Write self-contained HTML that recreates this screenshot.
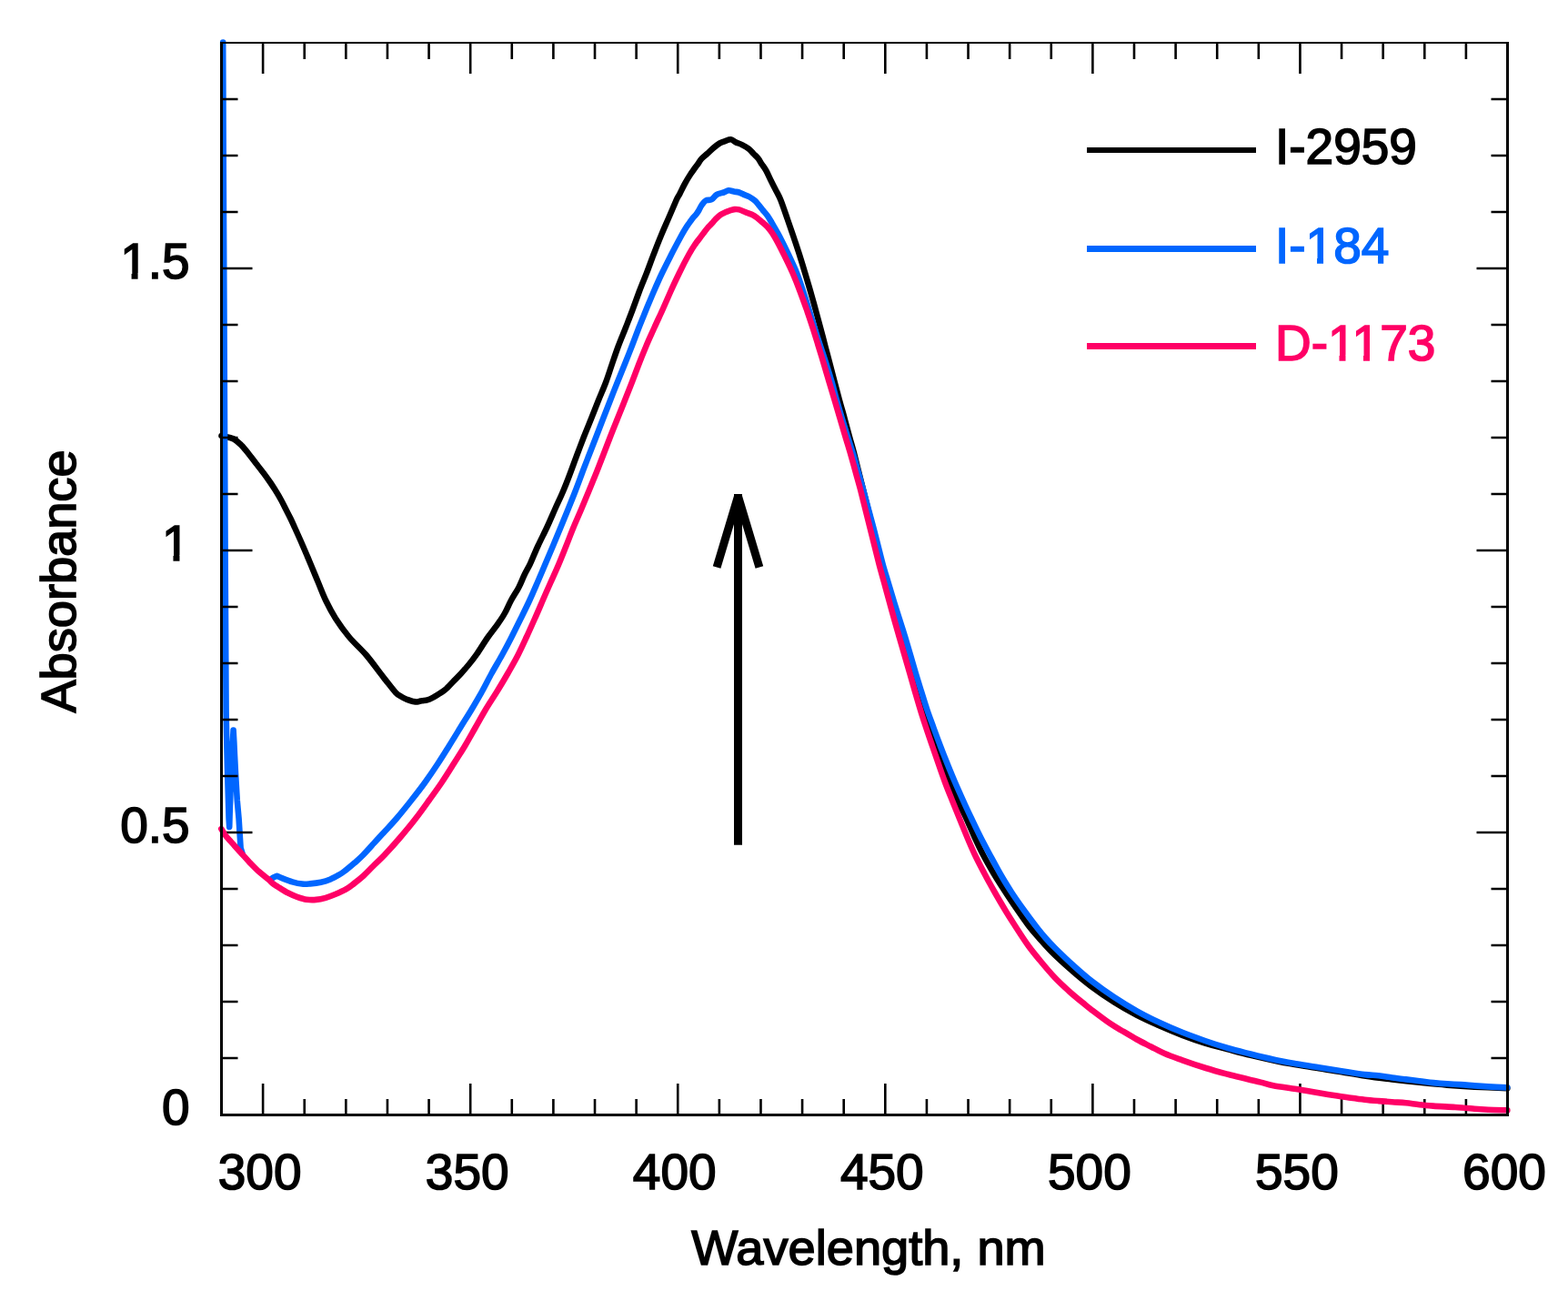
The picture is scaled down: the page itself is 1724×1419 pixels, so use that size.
<!DOCTYPE html>
<html><head><meta charset="utf-8"><title>Absorbance spectra</title>
<style>
html,body{margin:0;padding:0;background:#fff;}
body{width:1724px;height:1419px;overflow:hidden;}
svg{display:block;}
text{font-family:"Liberation Sans", Arial, Helvetica, sans-serif;font-size:55px;fill:#000;stroke:#000;stroke-width:1.6px;}
</style></head>
<body>
<svg width="1724" height="1419" viewBox="0 0 1724 1419">
<rect width="1724" height="1419" fill="#fff"/>
<g fill="none" stroke-width="6.6" stroke-linecap="round" stroke-linejoin="round">
<path d="M243.5 479.0 C244.1 479.1 244.6 479.1 246.8 479.7 C249.0 480.3 253.9 480.9 256.9 482.5 C259.9 484.1 262.9 487.1 265.0 489.0 C267.1 490.9 267.8 492.0 269.3 493.8 C270.9 495.6 272.2 497.3 274.3 500.0 C276.4 502.7 279.4 506.7 282.0 510.0 C284.6 513.3 287.3 516.7 289.8 520.0 C292.3 523.3 294.7 526.7 297.0 530.0 C299.3 533.3 301.4 536.7 303.5 540.0 C305.6 543.3 307.5 546.7 309.3 550.0 C311.1 553.3 312.7 556.7 314.4 560.0 C316.1 563.3 317.9 566.7 319.5 570.0 C321.1 573.3 322.6 576.7 324.1 580.0 C325.6 583.3 327.1 586.7 328.6 590.0 C330.1 593.3 331.6 596.7 333.0 600.0 C334.4 603.3 335.9 606.7 337.3 610.0 C338.7 613.3 339.4 615.0 341.5 620.0 C343.6 625.0 347.0 633.3 349.8 640.0 C352.6 646.7 355.0 653.3 358.2 660.0 C361.4 666.7 364.9 673.3 369.1 680.0 C373.4 686.7 378.1 693.3 383.7 700.0 C389.3 706.7 396.9 713.3 402.7 720.0 C408.4 726.7 414.6 735.4 418.2 740.0 C421.8 744.6 421.5 744.4 424.3 747.9 C427.1 751.4 432.2 758.2 435.0 761.2 C437.8 764.2 439.2 764.5 441.3 765.8 C443.4 767.1 445.6 768.0 447.7 768.9 C449.8 769.8 452.1 770.5 454.0 770.9 C455.9 771.3 457.2 771.6 458.8 771.5 C460.4 771.4 461.6 770.6 463.5 770.3 C465.4 769.9 467.8 770.0 469.9 769.4 C472.0 768.8 474.1 767.7 476.2 766.6 C478.3 765.5 480.4 764.1 482.6 762.7 C484.8 761.3 486.9 760.3 489.5 758.1 C492.1 755.9 495.1 752.5 498.0 749.5 C500.9 746.5 504.4 743.1 507.2 740.0 C510.0 736.9 512.1 734.5 515.0 731.0 C517.9 727.5 520.7 724.1 524.3 718.9 C527.9 713.7 532.8 705.5 536.7 700.0 C540.6 694.5 544.5 689.9 547.5 685.6 C550.5 681.3 552.6 678.3 555.0 674.0 C557.4 669.7 559.3 664.8 561.9 660.0 C564.5 655.2 568.3 649.7 570.7 645.0 C573.1 640.3 574.5 636.2 576.5 632.0 C578.5 627.8 580.2 625.3 582.8 620.0 C585.2 614.7 588.4 606.7 591.5 600.0 C594.6 593.3 598.0 586.8 601.2 580.0 C604.4 573.2 607.5 565.7 610.5 559.0 C613.5 552.3 616.4 546.5 619.1 540.0 C621.9 533.5 624.5 526.7 627.0 520.0 C629.5 513.3 631.9 506.7 634.4 500.0 C636.9 493.3 639.4 486.7 642.0 480.0 C644.6 473.3 647.4 466.7 650.1 460.0 C652.8 453.3 655.3 446.7 658.0 440.0 C660.7 433.3 663.7 426.7 666.2 420.0 C668.7 413.3 670.7 406.7 673.0 400.0 C675.3 393.3 677.5 386.7 680.0 380.0 C682.5 373.3 685.4 366.7 688.0 360.0 C690.6 353.3 693.2 346.7 695.7 340.0 C698.2 333.3 700.5 326.7 703.0 320.0 C705.5 313.3 708.4 306.7 711.0 300.0 C713.6 293.3 715.9 286.7 718.5 280.0 C721.1 273.3 723.6 266.7 726.4 260.0 C729.1 253.3 732.1 246.7 735.0 240.0 C737.9 233.3 741.6 224.5 743.6 220.0 C745.6 215.5 745.8 216.1 747.3 213.2 C748.8 210.3 750.7 206.1 752.6 202.6 C754.5 199.1 757.0 194.9 758.9 192.0 C760.8 189.1 762.4 187.0 763.8 185.0 C765.2 183.0 766.3 181.7 767.5 180.0 C768.7 178.3 769.4 176.6 771.1 174.8 C772.8 173.0 775.3 171.0 777.5 169.0 C779.7 167.0 782.1 164.5 784.4 162.6 C786.7 160.7 789.3 158.7 791.4 157.4 C793.5 156.2 795.2 155.8 797.2 155.1 C799.2 154.4 801.7 153.1 803.6 153.3 C805.5 153.5 806.8 155.2 808.8 156.2 C810.8 157.2 813.5 157.9 815.8 159.1 C818.1 160.3 820.6 161.5 822.7 163.2 C824.8 164.8 826.7 167.2 828.5 169.0 C830.3 170.8 832.2 172.3 833.7 174.2 C835.2 176.1 836.0 178.1 837.5 180.3 C839.0 182.5 840.6 184.3 842.4 187.6 C844.2 190.9 846.5 196.3 848.4 200.0 C850.2 203.7 851.8 206.7 853.5 210.0 C855.2 213.3 856.4 215.0 858.4 220.0 C860.4 225.0 863.2 233.3 865.5 240.0 C867.8 246.7 870.1 253.3 872.4 260.0 C874.6 266.7 876.9 273.3 879.0 280.0 C881.1 286.7 883.1 293.3 885.1 300.0 C887.1 306.7 889.1 313.3 891.0 320.0 C892.9 326.7 894.8 333.3 896.6 340.0 C898.4 346.7 900.2 353.3 902.0 360.0 C903.8 366.7 905.5 373.3 907.2 380.0 C909.0 386.7 910.8 393.3 912.5 400.0 C914.2 406.7 916.0 413.3 917.7 420.0 C919.5 426.7 921.2 433.3 923.0 440.0 C924.8 446.7 926.8 453.3 928.6 460.0 C930.4 466.7 932.2 473.3 934.0 480.0 C935.8 486.7 937.8 493.3 939.5 500.0 C941.2 506.7 942.8 513.3 944.5 520.0 C946.2 526.7 947.8 533.3 949.5 540.0 C951.2 546.7 952.8 553.3 954.5 560.0 C956.2 566.7 957.8 573.3 959.5 580.0 C961.2 586.7 962.9 593.3 964.5 600.0 C966.1 606.7 967.2 613.3 969.0 620.0 C970.8 626.7 973.1 633.3 975.0 640.0 C976.9 646.7 978.7 653.3 980.5 660.0 C982.3 666.7 984.1 673.3 986.0 680.0 C987.9 686.7 990.1 693.3 992.0 700.0 C993.9 706.7 995.6 713.3 997.5 720.0 C999.4 726.7 1001.3 733.3 1003.5 740.0 C1005.7 746.7 1008.1 753.3 1010.5 760.0 C1012.9 766.7 1015.8 773.3 1018.0 780.0 C1020.2 786.7 1021.6 793.3 1023.5 800.0 C1025.4 806.7 1027.3 813.3 1029.5 820.0 C1031.7 826.7 1034.0 833.3 1036.5 840.0 C1039.0 846.7 1041.8 853.3 1044.6 860.0 C1047.3 866.7 1050.0 873.3 1053.0 880.0 C1056.0 886.7 1059.6 893.3 1062.7 900.0 C1065.8 906.7 1068.4 913.3 1071.5 920.0 C1074.6 926.7 1077.7 933.3 1081.2 940.0 C1084.7 946.7 1088.5 953.3 1092.5 960.0 C1096.5 966.7 1100.8 973.3 1105.1 980.0 C1109.4 986.7 1113.9 993.3 1118.5 1000.0 C1123.1 1006.7 1128.3 1014.2 1132.9 1020.0 C1137.5 1025.8 1141.5 1030.0 1146.0 1035.0 C1150.5 1040.0 1154.3 1044.3 1160.0 1049.8 C1165.7 1055.3 1173.3 1062.2 1180.0 1068.0 C1186.7 1073.8 1192.5 1078.7 1200.0 1084.3 C1207.5 1089.9 1216.7 1096.2 1225.0 1101.5 C1233.3 1106.8 1241.7 1111.5 1250.0 1115.8 C1258.3 1120.1 1266.7 1123.8 1275.0 1127.5 C1283.3 1131.2 1291.7 1134.6 1300.0 1137.8 C1308.3 1141.0 1316.7 1143.9 1325.0 1146.5 C1333.3 1149.1 1341.7 1151.1 1350.0 1153.3 C1358.3 1155.5 1366.7 1157.8 1375.0 1159.8 C1383.3 1161.8 1391.7 1163.7 1400.0 1165.4 C1408.3 1167.2 1416.7 1168.8 1425.0 1170.3 C1433.3 1171.8 1441.7 1173.0 1450.0 1174.3 C1458.3 1175.6 1466.7 1176.8 1475.0 1178.2 C1483.3 1179.6 1490.7 1181.1 1500.0 1182.5 C1509.3 1183.9 1520.5 1185.3 1530.6 1186.5 C1540.7 1187.7 1550.7 1188.8 1560.8 1189.8 C1570.9 1190.8 1581.0 1191.8 1591.0 1192.6 C1601.0 1193.4 1610.0 1194.0 1621.1 1194.6 C1632.1 1195.2 1651.3 1195.9 1657.3 1196.2" stroke="#000"/>
<path d="M245.2 46.5 L245.8 200.0 L246.7 394.0 L247.7 628.0 L248.6 783.0 L249.1 807.0 L250.0 845.0 L251.6 900.0 L252.2 909.0 L252.6 895.0 L254.5 845.0 L256.1 812.0 L256.6 802.5 L257.3 815.0 L258.0 830.0 L259.0 850.0 L260.8 880.0 L262.6 900.0 L264.6 932.0 L266.5 938.0 M297.5 966.6 L300.5 964.5 L304.5 962.8 L304.5 962.8 C305.6 963.3 308.3 964.5 311.1 965.6 C313.9 966.7 318.0 968.3 321.5 969.3 C325.0 970.3 328.8 971.2 332.0 971.6 C335.2 972.0 337.5 971.7 341.0 971.4 C344.5 971.1 349.1 970.6 352.8 969.8 C356.5 969.0 359.8 968.0 363.3 966.5 C366.8 965.0 370.9 962.6 373.7 961.0 C376.5 959.4 377.3 958.7 380.0 956.6 C382.7 954.5 386.8 951.1 390.0 948.3 C393.2 945.5 395.6 943.5 399.0 940.0 C402.4 936.5 406.7 931.7 410.6 927.4 C414.6 923.1 418.5 918.8 422.7 914.2 C426.9 909.6 430.8 905.7 435.7 900.0 C440.6 894.3 446.7 886.7 452.0 880.0 C457.3 873.3 462.5 866.7 467.3 860.0 C472.1 853.3 476.6 846.7 481.0 840.0 C485.4 833.3 489.5 826.7 493.7 820.0 C497.9 813.3 501.9 806.7 506.0 800.0 C510.1 793.3 514.4 786.7 518.4 780.0 C522.4 773.3 526.3 766.7 530.0 760.0 C533.7 753.3 536.9 746.7 540.6 740.0 C544.3 733.3 548.3 726.7 552.0 720.0 C555.7 713.3 559.2 706.7 562.6 700.0 C566.0 693.3 569.2 686.7 572.5 680.0 C575.8 673.3 579.1 666.7 582.2 660.0 C585.3 653.3 588.1 646.7 591.0 640.0 C593.9 633.3 596.7 626.7 599.5 620.0 C602.3 613.3 605.2 606.7 608.0 600.0 C610.8 593.3 613.5 586.7 616.3 580.0 C619.0 573.3 621.8 566.7 624.5 560.0 C627.2 553.3 629.9 546.7 632.5 540.0 C635.1 533.3 637.5 526.7 640.0 520.0 C642.5 513.3 645.1 506.7 647.7 500.0 C650.3 493.3 652.9 486.7 655.5 480.0 C658.1 473.3 660.6 466.7 663.2 460.0 C665.8 453.3 668.4 446.7 671.0 440.0 C673.6 433.3 676.2 426.7 678.9 420.0 C681.6 413.3 684.3 406.7 687.0 400.0 C689.7 393.3 692.3 386.7 694.9 380.0 C697.5 373.3 699.9 366.7 702.5 360.0 C705.1 353.3 707.9 346.7 710.6 340.0 C713.4 333.3 716.1 326.7 719.0 320.0 C721.9 313.3 724.8 306.7 728.0 300.0 C731.2 293.3 734.6 286.7 738.0 280.0 C741.4 273.3 746.0 264.8 748.6 260.0 C751.2 255.2 752.0 253.9 753.5 251.5 C755.0 249.1 756.2 247.4 757.5 245.5 C758.8 243.6 760.2 241.7 761.5 240.0 C762.8 238.3 764.3 237.0 765.5 235.5 C766.7 234.0 767.5 232.7 768.5 231.0 C769.5 229.3 770.2 227.2 771.5 225.5 C772.8 223.8 774.2 221.6 776.0 220.5 C777.8 219.4 780.5 220.3 782.5 219.2 C784.5 218.1 785.9 215.1 788.1 213.8 C790.3 212.5 793.6 212.2 795.8 211.5 C797.9 210.8 799.2 209.5 801.0 209.3 C802.8 209.1 804.9 210.1 806.8 210.5 C808.7 210.9 810.7 210.9 812.6 211.5 C814.5 212.1 816.5 213.3 818.4 214.1 C820.3 214.9 822.3 215.4 824.2 216.5 C826.1 217.6 828.4 219.1 830.0 220.5 C831.6 221.9 832.6 223.4 834.1 225.2 C835.6 226.9 837.1 229.0 838.7 231.0 C840.4 233.0 842.4 235.0 844.0 237.3 C845.6 239.6 846.4 241.1 848.6 244.9 C850.8 248.7 854.1 254.2 857.2 260.0 C860.3 265.9 863.9 273.3 867.0 280.0 C870.1 286.7 873.3 293.3 876.0 300.0 C878.7 306.7 880.8 313.3 883.0 320.0 C885.2 326.7 887.3 333.3 889.4 340.0 C891.5 346.7 893.4 353.3 895.5 360.0 C897.6 366.7 899.7 373.3 901.9 380.0 C904.1 386.7 906.4 393.3 908.5 400.0 C910.6 406.7 912.7 413.3 914.6 420.0 C916.5 426.7 918.1 433.3 920.0 440.0 C921.9 446.7 923.8 453.3 925.8 460.0 C927.8 466.7 929.9 473.3 932.0 480.0 C934.1 486.7 936.4 493.3 938.4 500.0 C940.4 506.7 942.1 513.3 944.0 520.0 C945.9 526.7 947.8 533.3 949.6 540.0 C951.4 546.7 953.2 553.3 955.0 560.0 C956.8 566.7 958.6 573.3 960.4 580.0 C962.1 586.7 963.8 593.3 965.5 600.0 C967.2 606.7 968.8 613.3 970.6 620.0 C972.4 626.7 974.5 633.3 976.5 640.0 C978.5 646.7 980.5 653.3 982.5 660.0 C984.5 666.7 986.7 673.3 988.8 680.0 C990.9 686.7 993.1 693.3 995.1 700.0 C997.1 706.7 999.0 713.3 1001.0 720.0 C1003.0 726.7 1004.8 733.3 1006.8 740.0 C1008.8 746.7 1010.9 753.3 1013.0 760.0 C1015.1 766.7 1017.0 773.3 1019.3 780.0 C1021.5 786.7 1024.1 793.3 1026.5 800.0 C1028.9 806.7 1031.4 813.3 1033.9 820.0 C1036.5 826.7 1039.1 833.3 1041.8 840.0 C1044.5 846.7 1047.2 853.3 1050.1 860.0 C1053.0 866.7 1056.0 873.3 1059.0 880.0 C1062.0 886.7 1065.1 893.3 1068.3 900.0 C1071.5 906.7 1074.6 913.3 1078.0 920.0 C1081.4 926.7 1085.0 933.3 1088.6 940.0 C1092.2 946.7 1095.7 953.3 1099.5 960.0 C1103.3 966.7 1107.4 973.3 1111.7 980.0 C1116.0 986.7 1120.7 993.3 1125.5 1000.0 C1130.3 1006.7 1136.4 1014.8 1140.5 1020.0 C1144.6 1025.2 1146.8 1027.8 1150.0 1031.5 C1153.2 1035.2 1155.0 1037.1 1160.0 1042.0 C1165.0 1046.9 1173.3 1055.0 1180.0 1061.0 C1186.7 1067.0 1192.5 1072.3 1200.0 1078.1 C1207.5 1083.9 1216.7 1090.5 1225.0 1096.0 C1233.3 1101.5 1241.7 1106.6 1250.0 1111.3 C1258.3 1116.0 1266.7 1120.1 1275.0 1124.0 C1283.3 1127.9 1291.7 1131.5 1300.0 1134.8 C1308.3 1138.1 1316.7 1141.1 1325.0 1144.0 C1333.3 1146.9 1341.7 1149.6 1350.0 1152.0 C1358.3 1154.4 1366.7 1156.4 1375.0 1158.5 C1383.3 1160.6 1391.7 1162.7 1400.0 1164.5 C1408.3 1166.3 1416.7 1167.8 1425.0 1169.3 C1433.3 1170.8 1441.7 1172.0 1450.0 1173.3 C1458.3 1174.6 1466.6 1175.9 1475.0 1177.2 C1483.4 1178.5 1493.7 1180.3 1500.5 1181.1 C1507.3 1181.9 1510.6 1181.6 1515.6 1182.2 C1520.6 1182.8 1525.6 1183.8 1530.6 1184.5 C1535.6 1185.2 1540.7 1185.8 1545.7 1186.4 C1550.7 1187.0 1555.8 1187.6 1560.8 1188.2 C1565.8 1188.8 1570.9 1189.6 1575.9 1190.1 C1580.9 1190.6 1586.0 1191.0 1591.0 1191.3 C1596.0 1191.6 1601.0 1191.8 1606.0 1192.1 C1611.0 1192.4 1616.1 1193.0 1621.1 1193.4 C1626.1 1193.8 1630.2 1194.1 1636.2 1194.4 C1642.2 1194.7 1653.8 1195.2 1657.3 1195.4" stroke="#0066ff"/>
</g>
<path d="M289.11 1225V1191 M289.11 47V81 M334.73 1225V1208 M334.73 47V65 M380.34 1225V1208 M380.34 47V65 M425.95 1225V1208 M425.95 47V65 M471.56 1225V1208 M471.56 47V65 M517.18 1225V1191 M517.18 47V81 M562.79 1225V1208 M562.79 47V65 M608.40 1225V1208 M608.40 47V65 M654.02 1225V1208 M654.02 47V65 M699.63 1225V1208 M699.63 47V65 M745.24 1225V1191 M745.24 47V81 M790.86 1225V1208 M790.86 47V65 M836.47 1225V1208 M836.47 47V65 M882.08 1225V1208 M882.08 47V65 M927.70 1225V1208 M927.70 47V65 M973.31 1225V1191 M973.31 47V81 M1018.92 1225V1208 M1018.92 47V65 M1064.53 1225V1208 M1064.53 47V65 M1110.15 1225V1208 M1110.15 47V65 M1155.76 1225V1208 M1155.76 47V65 M1201.37 1225V1191 M1201.37 47V81 M1246.99 1225V1208 M1246.99 47V65 M1292.60 1225V1208 M1292.60 47V65 M1338.21 1225V1208 M1338.21 47V65 M1383.83 1225V1208 M1383.83 47V65 M1429.44 1225V1191 M1429.44 47V81 M1475.05 1225V1208 M1475.05 47V65 M1520.66 1225V1208 M1520.66 47V65 M1566.28 1225V1208 M1566.28 47V65 M1611.89 1225V1208 M1611.89 47V65 M243.5 1163.00H261.5 M1657.5 1163.00H1639.5 M243.5 1101.00H261.5 M1657.5 1101.00H1639.5 M243.5 1039.00H261.5 M1657.5 1039.00H1639.5 M243.5 977.00H261.5 M1657.5 977.00H1639.5 M243.5 915.00H277.5 M1657.5 915.00H1623.5 M243.5 853.00H261.5 M1657.5 853.00H1639.5 M243.5 791.00H261.5 M1657.5 791.00H1639.5 M243.5 729.00H261.5 M1657.5 729.00H1639.5 M243.5 667.00H261.5 M1657.5 667.00H1639.5 M243.5 605.00H277.5 M1657.5 605.00H1623.5 M243.5 543.00H261.5 M1657.5 543.00H1639.5 M243.5 481.00H261.5 M1657.5 481.00H1639.5 M243.5 419.00H261.5 M1657.5 419.00H1639.5 M243.5 357.00H261.5 M1657.5 357.00H1639.5 M243.5 295.00H277.5 M1657.5 295.00H1623.5 M243.5 233.00H261.5 M1657.5 233.00H1639.5 M243.5 171.00H261.5 M1657.5 171.00H1639.5 M243.5 109.00H261.5 M1657.5 109.00H1639.5" fill="none" stroke="#000" stroke-width="2.6"/>
<path d="M243.3 911.0 C244.0 912.1 245.7 915.3 247.4 917.6 C249.1 919.9 250.9 921.8 253.7 924.9 C256.5 928.0 260.6 932.6 264.1 936.4 C267.6 940.2 271.0 944.2 274.5 947.9 C278.0 951.5 281.5 955.2 285.0 958.3 C288.5 961.4 292.9 964.6 295.4 966.7 C297.9 968.9 298.2 969.8 300.0 971.2 C301.8 972.6 303.2 973.3 305.9 975.0 C308.6 976.7 312.8 979.5 316.3 981.3 C319.8 983.1 323.2 984.6 326.7 985.8 C330.2 987.0 333.7 988.2 337.2 988.7 C340.7 989.2 344.1 989.2 347.6 988.9 C351.1 988.6 354.6 987.8 358.1 986.8 C361.6 985.8 364.9 984.5 368.5 983.0 C372.1 981.5 376.5 979.7 380.0 977.7 C383.5 975.7 386.1 973.5 389.4 971.0 C392.7 968.5 396.3 965.7 399.8 962.5 C403.3 959.3 406.5 955.8 410.3 952.0 C414.1 948.2 417.6 945.2 422.5 940.0 C427.4 934.8 434.3 927.2 440.0 920.5 C445.7 913.8 451.6 906.8 456.8 900.0 C462.1 893.2 466.7 886.7 471.5 880.0 C476.3 873.3 481.2 866.7 485.7 860.0 C490.2 853.3 494.3 846.7 498.5 840.0 C502.7 833.3 507.1 826.7 511.1 820.0 C515.1 813.3 518.7 806.7 522.5 800.0 C526.3 793.3 529.9 786.7 533.9 780.0 C537.9 773.3 542.4 766.7 546.5 760.0 C550.6 753.3 554.6 746.7 558.4 740.0 C562.2 733.3 566.1 726.7 569.5 720.0 C572.9 713.3 575.9 706.7 579.0 700.0 C582.1 693.3 585.0 686.7 588.0 680.0 C591.0 673.3 593.8 666.7 596.7 660.0 C599.6 653.3 602.5 646.7 605.5 640.0 C608.5 633.3 611.6 626.7 614.4 620.0 C617.2 613.3 619.8 606.7 622.5 600.0 C625.2 593.3 627.6 586.7 630.4 580.0 C633.1 573.3 636.2 566.7 639.0 560.0 C641.8 553.3 644.5 546.7 647.3 540.0 C650.0 533.3 652.8 526.7 655.5 520.0 C658.2 513.3 660.7 506.7 663.3 500.0 C665.9 493.3 668.4 486.7 671.0 480.0 C673.6 473.3 676.3 466.7 679.0 460.0 C681.7 453.3 684.4 446.7 687.0 440.0 C689.6 433.3 692.3 426.7 694.9 420.0 C697.5 413.3 699.9 406.7 702.5 400.0 C705.1 393.3 707.8 386.7 710.6 380.0 C713.4 373.3 716.5 366.7 719.5 360.0 C722.5 353.3 725.7 346.7 728.7 340.0 C731.7 333.3 734.5 326.7 737.5 320.0 C740.5 313.3 743.6 306.8 746.9 300.0 C750.2 293.2 754.6 284.7 757.5 279.5 C760.4 274.3 762.1 271.8 764.1 268.8 C766.1 265.8 767.6 264.1 769.4 261.7 C771.2 259.3 773.1 256.8 774.7 254.7 C776.3 252.6 777.4 251.1 778.9 249.4 C780.4 247.8 782.1 246.3 783.5 244.8 C784.9 243.3 785.5 242.1 787.0 240.6 C788.5 239.1 790.5 237.2 792.3 236.0 C794.1 234.8 796.0 234.0 797.6 233.3 C799.2 232.6 800.4 232.1 802.0 231.6 C803.6 231.1 805.6 230.3 807.4 230.1 C809.2 229.9 810.6 229.9 812.6 230.4 C814.6 230.9 817.3 232.2 819.6 233.1 C821.9 234.0 824.5 234.8 826.6 235.8 C828.7 236.8 830.5 237.9 832.4 239.3 C834.3 240.7 836.3 242.6 838.2 244.3 C840.1 246.0 841.8 246.9 844.0 249.5 C846.2 252.1 848.5 254.9 851.5 260.0 C854.5 265.1 858.7 273.3 862.0 280.0 C865.3 286.7 868.6 293.3 871.5 300.0 C874.4 306.7 877.0 313.3 879.5 320.0 C882.0 326.7 884.5 333.3 886.8 340.0 C889.1 346.7 891.4 353.3 893.5 360.0 C895.6 366.7 897.7 373.3 899.7 380.0 C901.8 386.7 903.8 393.3 905.8 400.0 C907.8 406.7 909.7 413.3 911.7 420.0 C913.7 426.7 915.7 433.3 917.7 440.0 C919.7 446.7 921.6 453.3 923.6 460.0 C925.6 466.7 927.5 473.3 929.5 480.0 C931.5 486.7 933.6 493.3 935.5 500.0 C937.4 506.7 939.2 513.3 941.0 520.0 C942.8 526.7 944.8 533.3 946.5 540.0 C948.2 546.7 949.8 553.3 951.5 560.0 C953.2 566.7 954.8 573.3 956.5 580.0 C958.2 586.7 959.8 593.3 961.5 600.0 C963.2 606.7 964.8 613.3 966.5 620.0 C968.2 626.7 970.2 633.3 972.0 640.0 C973.8 646.7 975.7 653.3 977.5 660.0 C979.3 666.7 981.1 673.3 983.0 680.0 C984.9 686.7 986.8 693.3 988.7 700.0 C990.6 706.7 992.6 713.3 994.5 720.0 C996.4 726.7 998.4 733.3 1000.3 740.0 C1002.2 746.7 1004.1 753.3 1006.0 760.0 C1007.9 766.7 1009.9 773.3 1011.9 780.0 C1013.9 786.7 1016.1 793.3 1018.3 800.0 C1020.5 806.7 1022.8 813.3 1025.1 820.0 C1027.4 826.7 1029.7 833.3 1032.0 840.0 C1034.3 846.7 1036.6 853.3 1039.1 860.0 C1041.6 866.7 1044.3 873.3 1047.0 880.0 C1049.7 886.7 1052.4 893.3 1055.1 900.0 C1057.8 906.7 1060.5 913.3 1063.3 920.0 C1066.1 926.7 1068.9 933.3 1072.1 940.0 C1075.3 946.7 1078.8 953.3 1082.3 960.0 C1085.8 966.7 1089.5 973.3 1093.3 980.0 C1097.1 986.7 1101.0 993.3 1105.0 1000.0 C1109.0 1006.7 1113.3 1013.3 1117.6 1020.0 C1121.9 1026.7 1126.7 1034.1 1131.0 1040.0 C1135.3 1045.9 1138.5 1049.7 1143.3 1055.5 C1148.1 1061.3 1154.7 1069.2 1160.0 1074.8 C1165.3 1080.4 1170.1 1084.7 1175.1 1089.2 C1180.1 1093.7 1186.0 1098.5 1190.2 1101.9 C1194.4 1105.3 1195.0 1106.0 1200.0 1109.8 C1205.0 1113.6 1214.4 1120.8 1220.3 1124.8 C1226.2 1128.8 1230.5 1131.0 1235.4 1133.9 C1240.4 1136.9 1245.0 1139.7 1250.0 1142.5 C1255.0 1145.3 1260.5 1147.9 1265.6 1150.5 C1270.7 1153.1 1274.9 1155.5 1280.6 1158.0 C1286.3 1160.5 1292.5 1162.6 1300.0 1165.3 C1307.5 1168.0 1317.6 1171.4 1325.9 1174.0 C1334.2 1176.6 1342.5 1178.8 1350.0 1180.8 C1357.5 1182.8 1365.1 1184.5 1371.1 1186.0 C1377.1 1187.5 1381.4 1188.4 1386.2 1189.6 C1391.0 1190.8 1393.5 1192.0 1400.0 1193.2 C1406.5 1194.4 1416.8 1195.7 1425.1 1197.0 C1433.4 1198.3 1442.5 1200.0 1450.0 1201.3 C1457.5 1202.6 1464.4 1203.7 1470.3 1204.6 C1476.2 1205.5 1480.4 1206.0 1485.4 1206.7 C1490.4 1207.4 1495.5 1208.1 1500.5 1208.7 C1505.5 1209.3 1510.6 1209.7 1515.6 1210.1 C1520.6 1210.5 1525.6 1210.8 1530.6 1211.2 C1535.6 1211.6 1540.7 1211.8 1545.7 1212.3 C1550.7 1212.8 1555.8 1213.7 1560.8 1214.2 C1565.8 1214.8 1569.4 1215.1 1575.9 1215.6 C1582.4 1216.1 1592.5 1216.5 1600.0 1217.0 C1607.5 1217.5 1615.1 1218.2 1621.1 1218.7 C1627.1 1219.2 1630.2 1219.4 1636.2 1219.7 C1642.2 1220.0 1653.8 1220.2 1657.3 1220.3" fill="none" stroke="#ff0066" stroke-width="6.6" stroke-linecap="round" stroke-linejoin="round"/>
<g fill="none" stroke="#000">
<path d="M243.5 46V1226.5" stroke-width="3"/>
<path d="M1657.5 46V1226.5" stroke-width="3"/>
<path d="M242 47H1659" stroke-width="2"/>
<path d="M242 1225.5H1659" stroke-width="3"/>
</g>
<g stroke="#000" fill="none">
<path d="M811.5 543V928.8" stroke-width="9"/>
<path d="M788.1 623.5L811.5 545.5M834.9 623.5L811.5 545.5" stroke-width="9"/>
</g>
<g stroke-width="6" fill="none">
<path d="M1195 165H1381" stroke="#000"/>
<path d="M1195 273.5H1381" stroke="#0066ff" stroke-width="7"/>
<path d="M1195 380.5H1381" stroke="#ff0066" stroke-width="7"/>
</g>
<text x="1402" y="180">I-2959</text>
<text x="1402" y="288.7" style="fill:#0066ff;stroke:#0066ff">I-184</text>
<text x="1402" y="395.7" style="fill:#ff0066;stroke:#ff0066">D-1173</text>
<text x="285.6" y="1307" text-anchor="middle">300</text><text x="513.7" y="1307" text-anchor="middle">350</text><text x="741.7" y="1307" text-anchor="middle">400</text><text x="969.8" y="1307" text-anchor="middle">450</text><text x="1197.9" y="1307" text-anchor="middle">500</text><text x="1425.9" y="1307" text-anchor="middle">550</text><text x="1654.0" y="1307" text-anchor="middle">600</text>
<text x="208.6" y="1235.5" text-anchor="end">0</text><text x="208.6" y="925.5" text-anchor="end">0.5</text><text x="208.6" y="615.5" text-anchor="end">1</text><text x="208.6" y="305.5" text-anchor="end">1.5</text>
<g fill="#fff"><rect x="1437.39" y="283.60" width="10.65" height="6.8"/><rect x="1455.04" y="283.60" width="10.5" height="6.8"/><rect x="1461.83" y="390.60" width="10.65" height="6.8"/><rect x="1479.48" y="390.60" width="10.5" height="6.8"/><rect x="1488.33" y="390.60" width="10.65" height="6.8"/><rect x="1505.98" y="390.60" width="10.5" height="6.8"/><rect x="179.81" y="610.40" width="10.65" height="6.8"/><rect x="197.46" y="610.40" width="10.5" height="6.8"/><rect x="133.93" y="300.40" width="10.65" height="6.8"/><rect x="151.58" y="300.40" width="10.5" height="6.8"/></g>
<text x="955" y="1390" text-anchor="middle" style="font-size:54.2px">Wavelength, nm</text>
<text transform="translate(83.3 639) rotate(-90)" text-anchor="middle" style="font-size:54.2px">Absorbance</text>
</svg>
</body></html>
